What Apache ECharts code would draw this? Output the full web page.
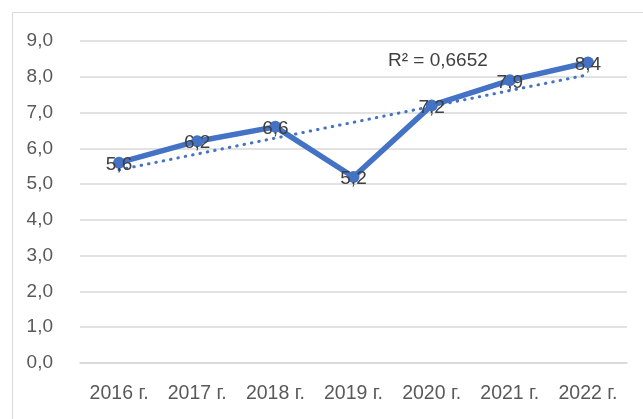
<!DOCTYPE html>
<html><head><meta charset="utf-8">
<script src="https://cdn.jsdelivr.net/npm/echarts@6/dist/echarts.min.js"></script>
<style>html,body{margin:0;padding:0;background:#fff}#c{width:643px;height:419px}</style>
</head><body><div id="c"></div>
<script>
var categories = ['2016 г.', '2017 г.', '2018 г.', '2019 г.', '2020 г.', '2021 г.', '2022 г.'];
var values = [5.6, 6.2, 6.6, 5.2, 7.2, 7.9, 8.4];
var r2Label = 'R² = 0,6652';

// linear trendline (least squares) from the values
var n = values.length, mx = 0, my = 0;
for (var i = 0; i < n; i++) { mx += (i + 1); my += values[i]; }
mx /= n; my /= n;
var sxy = 0, sxx = 0;
for (var i = 0; i < n; i++) { sxy += (i + 1 - mx) * (values[i] - my); sxx += (i + 1 - mx) * (i + 1 - mx); }
var slope = sxy / sxx, icpt = my - slope * mx;
var trend = values.map(function (v, i) { return +(icpt + slope * (i + 1)).toFixed(4); });

var font = 'Liberation Sans';
var chart = echarts.init(document.getElementById('c'), null, {renderer: 'canvas'});
chart.setOption({
  animation: false,
  backgroundColor: '#fff',
  grid: {left: 80, right: 16, top: 41, bottom: 56},
  graphic: [
    {type: 'rect', left: 10, top: 10, shape: {width: 640, height: 420}, style: {fill: 'none', stroke: '#d9d9d9', lineWidth: 1}, z: -1},
    {type: 'text', left: 388, top: 51, style: {text: r2Label, fill: '#404040', font: '19px "Liberation Sans"'}, z: 10}
  ],
  xAxis: {
    type: 'category', data: categories, boundaryGap: true,
    axisLine: {lineStyle: {color: '#d9d9d9', width: 1.5}},
    axisTick: {show: false},
    axisLabel: {color: '#595959', fontSize: 19.5, fontFamily: font, margin: 21, interval: 0, hideOverlap: false}
  },
  yAxis: {
    type: 'value', min: 0, max: 9, interval: 1,
    axisLine: {show: false}, axisTick: {show: false},
    splitLine: {lineStyle: {color: '#d9d9d9', width: 1.5}},
    axisLabel: {color: '#595959', fontSize: 19, fontFamily: font, margin: 27,
      formatter: function (v) { return v.toFixed(1).replace('.', ','); }}
  },
  series: [
    {
      type: 'line', data: trend, symbol: 'none', silent: true,
      lineStyle: {color: '#4472C4', width: 3, type: [0.5, 7], cap: 'round'}, z: 1
    },
    {
      type: 'line', data: values, symbol: 'circle', symbolSize: 12,
      lineStyle: {color: '#4472C4', width: 5.5}, itemStyle: {color: '#4472C4'},
      label: {show: true, position: 'inside', color: '#404040', fontSize: 19, fontFamily: font, offset: [0, 2],
        formatter: function (p) { return p.value.toFixed(1).replace('.', ','); }}, z: 2
    }
  ]
});
</script></body></html>
